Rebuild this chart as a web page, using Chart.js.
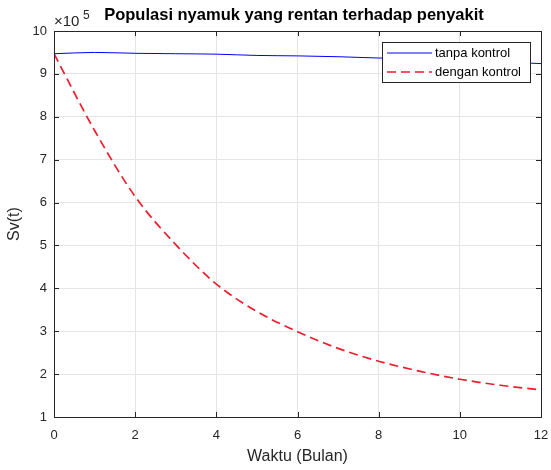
<!DOCTYPE html>
<html>
<head>
<meta charset="utf-8">
<script src="https://cdn.jsdelivr.net/npm/chart.js@4.4.1/dist/chart.umd.min.js"></script>
<style>
  html, body { margin: 0; padding: 0; background: #fff; }
  #wrap { width: 551px; height: 470px; }
</style>
</head>
<body>
<div id="wrap"><canvas id="chart" width="551" height="470"></canvas></div>
<script>
// data (values in units of 1e5)
const waktu = [0, 1, 2, 3, 4, 5, 6, 7, 8, 9, 10, 11, 12];
const tanpaKontrol = [9.47, 9.50, 9.48, 9.47, 9.46, 9.43, 9.42, 9.40, 9.37, 9.35, 9.32, 9.28, 9.24];
const denganKontrol = [9.47, 7.68, 6.14, 5.02, 4.10, 3.46, 2.99, 2.60, 2.30, 2.07, 1.88, 1.74, 1.63];
const xTicks = [0, 2, 4, 6, 8, 10, 12];
const yTicks = [1, 2, 3, 4, 5, 6, 7, 8, 9, 10];

const judul = 'Populasi nyamuk yang rentan terhadap penyakit';
const FONT = 'Arial, "Liberation Sans", Helvetica, sans-serif';

const toPts = (ys) => ys.map((y, i) => ({ x: waktu[i], y: y }));

// box, inward ticks, title, exponent and legend, MATLAB style
const matlabAxes = {
  id: 'matlabAxes',
  afterDraw(chart) {
    const { ctx, chartArea: a, scales } = chart;
    ctx.save();
    ctx.strokeStyle = '#262626';
    ctx.lineWidth = 1;
    ctx.strokeRect(a.left + 0.5, a.top + 0.5, a.right - a.left, a.bottom - a.top);
    ctx.beginPath();
    xTicks.forEach(v => {
      const px = Math.round(scales.x.getPixelForValue(v)) + 0.5;
      ctx.moveTo(px, a.bottom); ctx.lineTo(px, a.bottom - 5);
      ctx.moveTo(px, a.top); ctx.lineTo(px, a.top + 5);
    });
    yTicks.forEach(v => {
      const py = Math.round(scales.y.getPixelForValue(v)) + 0.5;
      ctx.moveTo(a.left, py); ctx.lineTo(a.left + 5, py);
      ctx.moveTo(a.right, py); ctx.lineTo(a.right - 5, py);
    });
    ctx.stroke();

    // title
    ctx.fillStyle = '#000';
    ctx.font = 'bold 16.5px ' + FONT;
    ctx.textAlign = 'center';
    ctx.textBaseline = 'alphabetic';
    ctx.fillText(judul, 294, 20);

    // x10^5
    ctx.fillStyle = '#262626';
    ctx.textAlign = 'left';
    ctx.textBaseline = 'middle';
    ctx.font = '15px ' + FONT;
    ctx.fillText('\u00d710', 54, 22);
    ctx.font = '12px ' + FONT;
    ctx.fillText('5', 83, 16);

    // legend
    const lx = 382, ly = 42, lw = 148, lh = 40;
    ctx.fillStyle = '#fff';
    ctx.fillRect(lx, ly, lw, lh);
    ctx.strokeStyle = '#262626';
    ctx.strokeRect(lx + 0.5, ly + 0.5, lw, lh);
    chart.data.datasets.forEach((ds, i) => {
      const yy = ly + 11 + i * 19;
      ctx.beginPath();
      ctx.strokeStyle = ds.borderColor;
      ctx.lineWidth = ds.borderWidth;
      ctx.setLineDash(ds.borderDash || []);
      ctx.moveTo(lx + 5, yy); ctx.lineTo(lx + 50, yy);
      ctx.stroke();
      ctx.setLineDash([]);
      ctx.fillStyle = '#000';
      ctx.font = '13px ' + FONT;
      ctx.textAlign = 'left';
      ctx.fillText(ds.label, lx + 53, yy);
    });
    ctx.restore();
  }
};

new Chart(document.getElementById('chart'), {
  type: 'line',
  data: {
    datasets: [
      {
        label: 'tanpa kontrol',
        data: toPts(tanpaKontrol),
        borderColor: '#0000ff',
        borderWidth: 1,
        pointRadius: 0,
        cubicInterpolationMode: 'monotone'
      },
      {
        label: 'dengan kontrol',
        data: toPts(denganKontrol),
        borderColor: '#ee1c2c',
        borderWidth: 1.7,
        borderDash: [9, 5],
        pointRadius: 0,
        cubicInterpolationMode: 'monotone'
      }
    ]
  },
  options: {
    responsive: false,
    animation: false,
    layout: { padding: { top: 31, right: 10, left: 0, bottom: 0 } },
    plugins: {
      legend: { display: false },
      title: { display: false },
      tooltip: { enabled: false }
    },
    scales: {
      x: {
        type: 'linear',
        min: 0,
        max: 12,
        afterBuildTicks: (s) => { s.ticks = xTicks.map(v => ({ value: v })); },
        afterFit: (s) => { s.height = 53; s.paddingLeft = 0; s.paddingRight = 0; },
        ticks: { color: '#262626', font: { family: FONT, size: 13 }, padding: 11, maxRotation: 0 },
        grid: { color: '#e5e5e5', drawTicks: false },
        border: { display: false },
        title: { display: true, text: 'Waktu (Bulan)', color: '#262626', font: { family: FONT, size: 16 }, padding: { top: 0, bottom: 4 } }
      },
      y: {
        min: 1,
        max: 10,
        afterBuildTicks: (s) => { s.ticks = yTicks.map(v => ({ value: v })); },
        afterFit: (s) => { s.width = 54; s.paddingTop = 0; s.paddingBottom = 0; },
        ticks: { color: '#262626', font: { family: FONT, size: 13 }, padding: 7 },
        grid: { color: '#e5e5e5', drawTicks: false },
        border: { display: false },
        title: { display: true, text: 'Sv(t)', color: '#262626', font: { family: FONT, size: 16 }, padding: { top: 5, bottom: 0 } }
      }
    }
  },
  plugins: [matlabAxes]
});
</script>
</body>
</html>
